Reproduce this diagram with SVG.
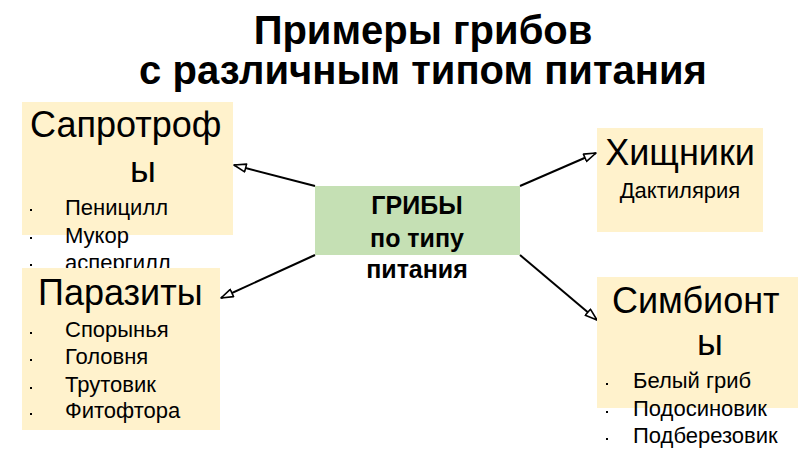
<svg xmlns="http://www.w3.org/2000/svg" width="800" height="450" viewBox="0 0 800 450">
  <style>
    text { font-family: "Liberation Sans", Arial, sans-serif; fill: #000; }
    .title { font-size: 40px; font-weight: bold; text-anchor: middle; }
    .box { fill: #FFF2CC; }
    .center { fill: #C5E0B4; }
    .head { font-size: 36px; }
    .item { font-size: 22px; }
    .ctext { font-size: 25px; font-weight: bold; text-anchor: middle; }
    .bul { fill: #000; }
    .conn { stroke: #000; stroke-width: 2; fill: none; marker-end: url(#arr); }
  </style>
  <defs>
    <marker id="arr" viewBox="0 0 14 10" refX="13" refY="5" markerWidth="14" markerHeight="10" markerUnits="userSpaceOnUse" orient="auto">
      <path d="M1,1 L13,5 L1,9 Z" fill="#fff" stroke="#000" stroke-width="1.6" stroke-linejoin="round"/>
    </marker>
    <clipPath id="clipSap">
      <rect x="0" y="0" width="260" height="268"/>
    </clipPath>
  </defs>
  <rect width="800" height="450" fill="#fff"/>

  <g id="title">
    <text class="title" x="423" y="44">Примеры грибов</text>
    <text class="title" x="423" y="84">с различным типом питания</text>
  </g>

  <g id="connectors">
    <line class="conn" x1="315" y1="186" x2="234" y2="165"/>
    <line class="conn" x1="315" y1="255" x2="221" y2="298"/>
    <line class="conn" x1="520" y1="186" x2="596" y2="153"/>
    <line class="conn" x1="520" y1="255" x2="597" y2="320"/>
  </g>

  <g id="saprotrophs">
    <rect class="box" x="22" y="102" width="211" height="133"/>
    <text class="head" x="30" y="137">Сапротроф</text>
    <text class="head" x="143" y="182" text-anchor="middle">ы</text>
    <rect class="bul" x="30" y="209" width="2" height="2"/>
    <text class="item" x="65" y="215">Пеницилл</text>
    <rect class="bul" x="30" y="237" width="2" height="2"/>
    <text class="item" x="65" y="243">Мукор</text>
    <rect class="bul" x="30" y="264" width="2" height="2"/>
    <text class="item" x="65" y="270" clip-path="url(#clipSap)">аспергилл</text>
  </g>

  <g id="parasites">
    <rect class="box" x="22" y="268" width="198" height="162"/>
    <text class="head" x="38" y="305">Паразиты</text>
    <rect class="bul" x="30" y="332" width="2" height="2"/>
    <text class="item" x="65" y="337">Спорынья</text>
    <rect class="bul" x="30" y="359" width="2" height="2"/>
    <text class="item" x="65" y="364">Головня</text>
    <rect class="bul" x="30" y="387" width="2" height="2"/>
    <text class="item" x="65" y="392">Трутовик</text>
    <rect class="bul" x="30" y="413" width="2" height="2"/>
    <text class="item" x="65" y="418">Фитофтора</text>
  </g>

  <g id="fungi">
    <rect class="center" x="315" y="186" width="205" height="69"/>
    <text class="ctext" x="417" y="214">ГРИБЫ</text>
    <text class="ctext" x="417" y="247">по типу</text>
    <text class="ctext" x="417" y="278">питания</text>
  </g>

  <g id="predators">
    <rect class="box" x="597" y="128" width="166" height="104"/>
    <text class="head" x="680" y="165" text-anchor="middle">Хищники</text>
    <text class="item" x="680" y="198" text-anchor="middle">Дактилярия</text>
  </g>

  <g id="symbionts">
    <rect class="box" x="597" y="277" width="201" height="131"/>
    <text class="head" x="612" y="313">Симбионт</text>
    <text class="head" x="710" y="355" text-anchor="middle">ы</text>
    <rect class="bul" x="606" y="383" width="2" height="2"/>
    <text class="item" x="633" y="388">Белый гриб</text>
    <rect class="bul" x="606" y="411" width="2" height="2"/>
    <text class="item" x="633" y="416">Подосиновик</text>
    <rect class="bul" x="606" y="438" width="2" height="2"/>
    <text class="item" x="633" y="443">Подберезовик</text>
  </g>
</svg>
